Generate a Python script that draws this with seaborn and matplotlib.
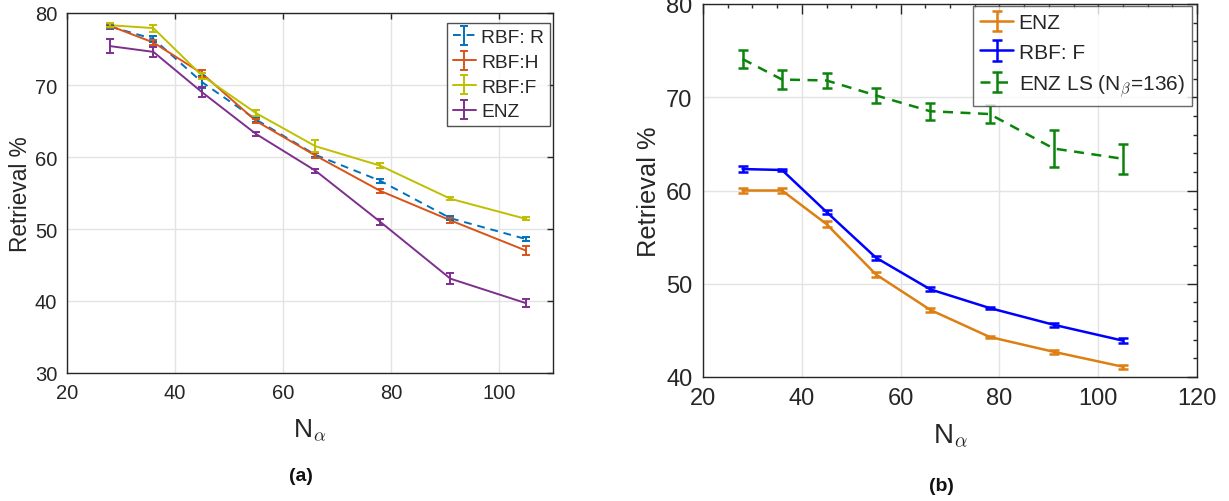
import numpy as np
import pandas as pd
import matplotlib
matplotlib.use("Agg")
import matplotlib.pyplot as plt
import seaborn as sns
from matplotlib.ticker import MultipleLocator

# ---------------- data ----------------
n_alpha = [28, 36, 45, 55, 66, 78, 91, 105]

# panel (a)
a_rbf_r = [78.1, 76.4, 70.4, 65.2, 60.3, 56.7, 51.5, 48.6]
a_rbf_r_err = [0.3, 0.4, 0.8, 0.3, 0.3, 0.3, 0.3, 0.3]
a_rbf_h = [78.2, 75.9, 71.6, 65.0, 60.2, 55.3, 51.2, 47.0]
a_rbf_h_err = [0.3, 0.4, 0.5, 0.3, 0.3, 0.3, 0.3, 0.6]
a_rbf_f = [78.3, 77.9, 71.3, 66.1, 61.5, 58.8, 54.2, 51.4]
a_rbf_f_err = [0.3, 0.5, 0.4, 0.4, 0.8, 0.3, 0.2, 0.2]
a_enz = [75.4, 74.6, 69.0, 63.2, 58.1, 51.0, 43.1, 39.7]
a_enz_err = [1.0, 0.7, 0.7, 0.3, 0.3, 0.4, 0.8, 0.6]

# panel (b)
b_enz = [60.0, 60.0, 56.4, 51.0, 47.2, 44.3, 42.7, 41.1]
b_enz_err = [0.3, 0.3, 0.3, 0.3, 0.2, 0.15, 0.2, 0.2]
b_rbf_f = [62.3, 62.2, 57.7, 52.8, 49.4, 47.4, 45.6, 43.9]
b_rbf_f_err = [0.3, 0.15, 0.2, 0.2, 0.2, 0.15, 0.2, 0.25]
b_enz_ls = [74.1, 71.9, 71.8, 70.2, 68.5, 68.2, 64.5, 63.4]
b_enz_ls_err = [1.0, 1.0, 0.8, 0.8, 0.9, 1.0, 2.0, 1.6]

labels_a = ["RBF: R", "RBF:H", "RBF:F", "ENZ"]
labels_b = ["ENZ", "RBF: F", r"ENZ LS (N$_{\beta}$=136)"]

# ---------------- style ----------------
sns.set_theme(style="white")
plt.rcParams["font.family"] = ["Liberation Sans", "DejaVu Sans"]
plt.rcParams["mathtext.fontset"] = "cm"

W, H = 1229, 502
fig = plt.figure(figsize=(W / 100, H / 100), dpi=100)
ax1 = fig.add_axes([67 / W, 1 - 374 / H, (553 - 67) / W, (374 - 14) / H])
ax2 = fig.add_axes([703 / W, 1 - 378 / H, (1197 - 703) / W, (378 - 5) / H])

def draw(ax, ys, errs, labels, colors, styles, lw, cap):
    handles = []
    for y, e, lab, c, ls in zip(ys, errs, labels, colors, styles):
        df = pd.DataFrame({"x": n_alpha, "y": y})
        sns.lineplot(data=df, x="x", y="y", ax=ax, color=c, linestyle=ls,
                     linewidth=lw, legend=False, zorder=3)
        line = ax.get_lines()[-1]
        eb = ax.errorbar(n_alpha, y, yerr=e, fmt="none", ecolor=c,
                         elinewidth=lw, capsize=cap, capthick=lw, zorder=4)
        handles.append((line, eb))
    return handles

spine_col = "#262626"

# ---- panel (a)
cols_a = ["#0072BD", "#D95319", "#BFBF00", "#7E2F8E"]
styles_a = [(0, (4, 3)), "-", "-", "-"]
h1 = draw(ax1, [a_rbf_r, a_rbf_h, a_rbf_f, a_enz],
          [a_rbf_r_err, a_rbf_h_err, a_rbf_f_err, a_enz_err],
          labels_a, cols_a, styles_a, 1.4, 3)
ax1.set_xlim(20, 110)
ax1.set_ylim(30, 80)
ax1.xaxis.set_major_locator(MultipleLocator(20))
ax1.yaxis.set_major_locator(MultipleLocator(10))
ax1.grid(True, color="#E3E3E3", linewidth=1)
ax1.set_axisbelow(True)
ax1.tick_params(axis="both", direction="in", length=4, width=1.0, top=True, right=True,
                labelsize=14.5, pad=7, colors=spine_col)
for s in ax1.spines.values():
    s.set_color(spine_col)
    s.set_linewidth(1.0)
ax1.set_xlabel(r"N$_{\alpha}$", fontsize=19, color=spine_col, labelpad=10)
ax1.set_ylabel("Retrieval %", fontsize=16.3, color=spine_col, labelpad=2)
leg1 = ax1.legend(h1, labels_a, loc="upper right",
                  bbox_to_anchor=((550 - 67) / (553 - 67), 1 - (24 - 14) / (374 - 14)),
                  fontsize=13.8, frameon=True, fancybox=False, edgecolor=spine_col,
                  handlelength=1.2, handletextpad=0.3, borderpad=0.3, labelspacing=0.38,
                  borderaxespad=0.0)
leg1.get_frame().set_linewidth(1.0)
fig.text(301 / W, 1 - 477 / H, "(a)", fontsize=14, fontweight="bold",
         ha="center", va="center", color="#111111")

# ---- panel (b)
cols_b = ["#DE7F12", "#0000FF", "#0A840A"]
styles_b = ["-", "-", (0, (4, 3))]
h2 = draw(ax2, [b_enz, b_rbf_f, b_enz_ls], [b_enz_err, b_rbf_f_err, b_enz_ls_err],
          labels_b, cols_b, styles_b, 1.8, 3.5)
ax2.set_xlim(20, 120)
ax2.set_ylim(40, 80)
ax2.xaxis.set_major_locator(MultipleLocator(20))
ax2.xaxis.set_minor_locator(MultipleLocator(5))
ax2.yaxis.set_major_locator(MultipleLocator(10))
ax2.yaxis.set_minor_locator(MultipleLocator(2))
ax2.grid(True, which="major", color="#E3E3E3", linewidth=1)
ax2.set_axisbelow(True)
ax2.tick_params(axis="both", which="major", direction="in", length=7, width=1.0,
                top=True, right=True, labelsize=17, pad=7.5, colors=spine_col)
ax2.tick_params(axis="both", which="minor", direction="in", length=3.2, width=1.0,
                top=True, right=True, colors=spine_col)
for s in ax2.spines.values():
    s.set_color(spine_col)
    s.set_linewidth(1.0)
ax2.set_xlabel(r"N$_{\alpha}$", fontsize=20, color=spine_col, labelpad=9)
ax2.set_ylabel("Retrieval %", fontsize=18.3, color=spine_col, labelpad=4)
leg2 = ax2.legend(h2, labels_b, loc="upper right",
                  bbox_to_anchor=((1192 - 703) / (1197 - 703), 1 - (7 - 5) / (378 - 5)),
                  fontsize=15, frameon=True, fancybox=False, edgecolor="#444444",
                  handlelength=1.6, handletextpad=0.25, borderpad=0.35, labelspacing=0.5,
                  borderaxespad=0.0)
leg2.get_frame().set_linewidth(1.0)
fig.text(941 / W, 1 - 487 / H, "(b)", fontsize=14, fontweight="bold",
         ha="center", va="center", color="#111111")

fig.savefig("out.png", dpi=100, facecolor="white")
